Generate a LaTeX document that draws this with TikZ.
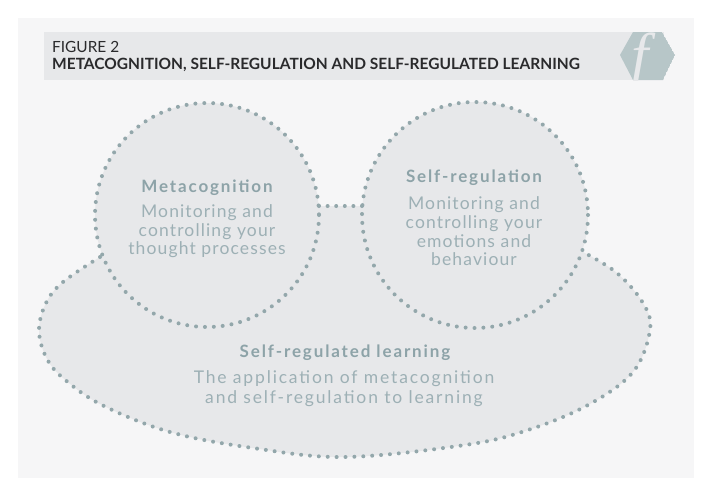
\documentclass[tikz,border=0pt]{standalone}
\usepackage{fontspec}
\setmainfont{Lato}
\newfontfamily\logofont{Liberation Serif}
\newfontfamily\headfont[LetterSpace=11]{Lato Bold}
\newfontfamily\bodyfont[LetterSpace=6.5]{Lato}
\newfontfamily\widebodyfont[LetterSpace=10.5]{Lato}
\definecolor{panel}{HTML}{F6F6F7}
\definecolor{blob}{HTML}{E7E8EA}
\definecolor{dotc}{HTML}{93A7AB}
\definecolor{headc}{HTML}{8DA3A8}
\definecolor{bodyc}{HTML}{9DB0B5}
\definecolor{hexc}{HTML}{B7C6C8}
\definecolor{inkc}{HTML}{2A2A2C}
\tikzset{
  dotline/.style={draw=dotc,line width=4pt,line cap=round,dash pattern=on 0pt off 8.9pt},
  head/.style={font=\headfont\fontsize{17}{19}\selectfont,text=headc,inner sep=0pt},
  body/.style={font=\bodyfont\fontsize{17.5}{18.6}\selectfont,text=bodyc,align=center,inner sep=0pt},
  widebody/.style={font=\widebodyfont\fontsize{17.5}{19.6}\selectfont,text=bodyc,align=center,inner sep=0pt},
  title/.style={anchor=west,inner sep=0pt,text=inkc}
}
\begin{document}
\begin{tikzpicture}[x=1pt,y=-1pt]
\useasboundingbox (0,0) rectangle (718,496);
\fill[white] (0,0) rectangle (718,496);
\fill[panel] (18,18) rectangle (694,478);
\fill[blob] (44,32) rectangle (664,80);
\begin{scope}
\clip (620,55) -- (633,32) -- (662,32) -- (675,55) -- (663,80) -- (633,80) -- cycle;
\fill[hexc] (620,55) -- (633,32) -- (662,32) -- (675,55) -- (663,80) -- (633,80) -- cycle;
\node[text=blob,inner sep=0pt,anchor=base,font=\logofont\itshape\fontsize{62}{62}\selectfont] (logo) at (640,76) {f};
\end{scope}
\node[title,font=\fontsize{15.4}{16}\selectfont] (fig) at (52,47) {FIGURE 2};
\node[title,font=\fontsize{15.5}{16}\selectfont\bfseries] (ttl) at (52,65) {METACOGNITION, SELF-REGULATION AND SELF-REGULATED LEARNING};
% filled regions
\def\blobpath{plot[smooth,tension=0.6] coordinates {(100,257) (63,282) (46,303) (39,330) (46,357) (63,378) (102,405) (170,432) (253,448) (345,457) (465,445) (528,430) (588,405) (633,372) (650,330) (643,303) (617,273) (583,252)}}
\fill[blob] \blobpath;
\fill[blob] (300,206) rectangle (380,300);
\fill[blob] (207,215) circle[radius=112];
\fill[blob] (475,215) circle[radius=113];
% dotted outlines
\draw[dotline] \blobpath;
\draw[dotline] (207,215) circle[radius=112];
\draw[dotline] (475,215) circle[radius=113];
\coordinate (ja) at (319,206);
\coordinate (jb) at (362,206);
\draw[dotline,dash pattern=on 0pt off 8.6pt] (ja) -- (jb);
% labels
\node[head] (m) at (207,187.5) {Metacognition};
\node[body] (mt) at (207,231.5) {Monitoring and\\controlling your\\thought processes};
\node[head] (s) at (474,177.5) {Self-regulation};
\node[body] (st) at (474,231.5) {Monitoring and\\controlling your\\emotions and\\behaviour};
\node[head] (l) at (345,352.5) {Self-regulated learning};
\node[widebody] (lt) at (344,388.5) {The application of metacognition\\and self-regulation to learning};
\end{tikzpicture}
\end{document}
